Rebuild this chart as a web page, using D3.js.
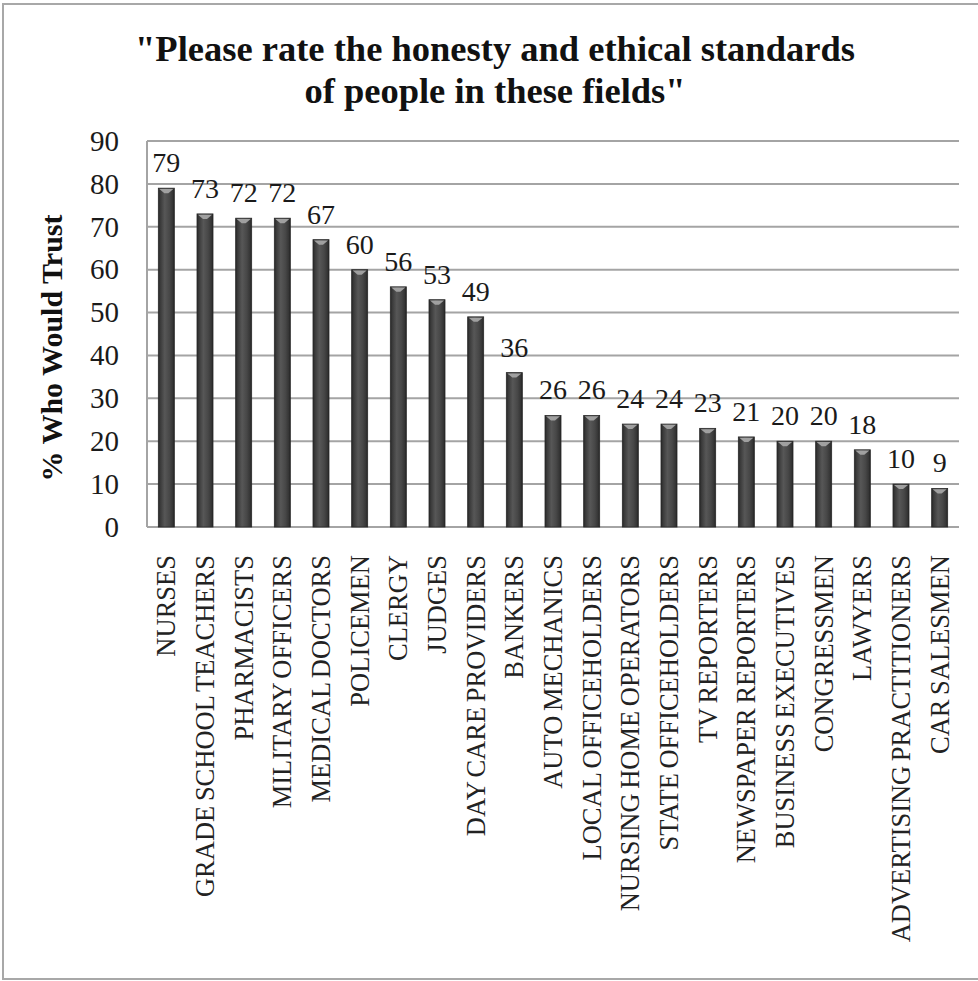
<!DOCTYPE html>
<html>
<head>
<meta charset="utf-8">
<script src="https://cdn.jsdelivr.net/npm/d3@7"></script>
<style>
  html, body { margin: 0; padding: 0; background: #ffffff; }
  svg { display: block; }
  text { font-family: "Liberation Serif", "DejaVu Serif", serif; }
</style>
</head>
<body>
<svg id="chart" width="978" height="981"></svg>
<script>
// Occupations, in the order drawn
const categories = [
  "NURSES", "GRADE SCHOOL TEACHERS", "PHARMACISTS", "MILITARY OFFICERS",
  "MEDICAL DOCTORS", "POLICEMEN", "CLERGY", "JUDGES", "DAY CARE PROVIDERS",
  "BANKERS", "AUTO MECHANICS", "LOCAL OFFICEHOLDERS", "NURSING HOME OPERATORS",
  "STATE OFFICEHOLDERS", "TV REPORTERS", "NEWSPAPER REPORTERS",
  "BUSINESS EXECUTIVES", "CONGRESSMEN", "LAWYERS",
  "ADVERTISING PRACTITIONERS", "CAR SALESMEN"
];
// Percent who would trust each occupation
const trustValues = [79, 73, 72, 72, 67, 60, 56, 53, 49, 36, 26, 26, 24, 24, 23, 21, 20, 20, 18, 10, 9];
// Value-axis ticks
const yTicks = [0, 10, 20, 30, 40, 50, 60, 70, 80, 90];
const titleLines = ["\"Please rate the honesty and ethical standards", "of people in these fields\""];
const yAxisTitle = "% Who Would Trust";

const svg = d3.select("#chart");

// Plot area
const plot = { left: 147, right: 959, top: 141, bottom: 527 };

const x = d3.scaleBand()
  .domain(categories)
  .range([plot.left, plot.right])
  .paddingInner(0.586)
  .paddingOuter(0.293);

const y = d3.scaleLinear()
  .domain([0, 90])
  .range([plot.bottom, plot.top]);

// Outer frame
svg.append("rect")
  .attr("x", 3).attr("y", 4)
  .attr("width", 1000).attr("height", 975)
  .attr("fill", "none")
  .attr("stroke", "#a8a8a8")
  .attr("stroke-width", 2);

// Bar shading: darker edges, lighter core
const defs = svg.append("defs");
const grad = defs.append("linearGradient")
  .attr("id", "barShade")
  .attr("x1", "0%").attr("x2", "100%").attr("y1", "0%").attr("y2", "0%");
[["0%", "#262626"], ["12%", "#3a3a3a"], ["40%", "#575757"], ["70%", "#474747"], ["90%", "#353535"], ["100%", "#222222"]]
  .forEach(([o, c]) => grad.append("stop").attr("offset", o).attr("stop-color", c));

// Horizontal gridlines
svg.append("g").selectAll("line")
  .data(yTicks)
  .join("line")
  .attr("x1", plot.left)
  .attr("x2", plot.right)
  .attr("y1", d => y(d))
  .attr("y2", d => y(d))
  .attr("stroke", "#a4a4a4")
  .attr("stroke-width", 2);

// Left edge of the plot area
svg.append("line")
  .attr("x1", plot.left).attr("x2", plot.left)
  .attr("y1", y(90)).attr("y2", y(0))
  .attr("stroke", "#a4a4a4")
  .attr("stroke-width", 2);

// Y axis tick labels
const yAxis = d3.axisLeft(y).tickValues(yTicks).tickSize(0).tickPadding(28);
const yAxisG = svg.append("g")
  .attr("transform", `translate(${plot.left},0)`)
  .call(yAxis);
yAxisG.select(".domain").remove();
yAxisG.selectAll("text")
  .attr("font-family", "Liberation Serif, serif")
  .attr("font-size", 29)
  .attr("fill", "#1a1a1a");

// Bars
const bars = svg.append("g");
const data = categories.map((c, i) => ({ cat: c, val: trustValues[i] }));

bars.selectAll("rect.bar")
  .data(data)
  .join("rect")
  .attr("class", "bar")
  .attr("x", d => x(d.cat))
  .attr("y", d => y(d.val))
  .attr("width", x.bandwidth())
  .attr("height", d => y(0) - y(d.val))
  .attr("fill", "url(#barShade)")
  .attr("stroke", "#2a2a2a")
  .attr("stroke-width", 0.8);

// Bevelled cap on each bar top
bars.selectAll("path.cap")
  .data(data)
  .join("path")
  .attr("class", "cap")
  .attr("d", d => {
    const x0 = x(d.cat), w = x.bandwidth(), t = y(d.val);
    return `M${x0 + 1},${t + 0.8} L${x0 + w - 1},${t + 0.8} L${x0 + w / 2 + 2},${t + 5} L${x0 + w / 2 - 2},${t + 5} Z`;
  })
  .attr("fill", "#a0a0a0");

// Value labels
svg.append("g").selectAll("text")
  .data(data)
  .join("text")
  .attr("x", d => x(d.cat) + x.bandwidth() / 2)
  .attr("y", d => y(d.val) - 16)
  .attr("text-anchor", "middle")
  .attr("font-size", 28)
  .attr("fill", "#1a1a1a")
  .text(d => d.val);

// Category labels, rotated
svg.append("g").selectAll("text")
  .data(categories)
  .join("text")
  .attr("transform", d => `translate(${x(d) + x.bandwidth() / 2},555) rotate(-90)`)
  .attr("text-anchor", "end")
  .attr("dy", "0.34em")
  .attr("font-size", 26.5)
  .attr("word-spacing", -2)
  .attr("fill", "#222")
  .text(d => d);

// Y axis title
svg.append("text")
  .attr("transform", "translate(62,348) rotate(-90)")
  .attr("text-anchor", "middle")
  .attr("font-size", 30)
  .attr("font-weight", "bold")
  .attr("fill", "#111")
  .text(yAxisTitle);

// Chart title, two lines
const title = svg.append("text")
  .attr("x", 495)
  .attr("y", 61)
  .attr("text-anchor", "middle")
  .attr("font-size", 36.5)
  .attr("font-weight", "bold")
  .attr("fill", "#111");
title.selectAll("tspan")
  .data(titleLines)
  .join("tspan")
  .attr("x", 495)
  .attr("dy", (d, i) => i === 0 ? 0 : 42)
  .text(d => d);
</script>
</body>
</html>
